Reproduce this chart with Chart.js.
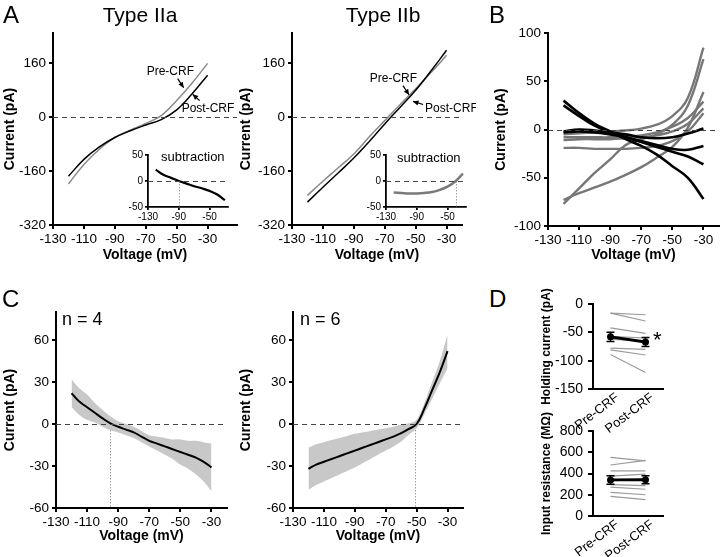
<!DOCTYPE html>
<html>
<head>
<meta charset="utf-8">
<script src="https://cdn.jsdelivr.net/npm/chart.js@4.4.1/dist/chart.umd.min.js"></script>
<style>
  body { margin: 0; background: #fff; }
  #fig { position: relative; width: 720px; height: 557px; overflow: hidden; font-family: 'Liberation Sans', Arial, Helvetica, sans-serif; }
  canvas { position: absolute; }
  .lbl { position: absolute; color: #000; white-space: nowrap; line-height: 1; z-index: 5; }
  .mid { transform: translateX(-50%); }
</style>
</head>
<body>
<div id="fig">
  <canvas id="aLeft" width="245" height="244" style="left:0px;top:22px"></canvas>
  <canvas id="aRight" width="240" height="244" style="left:236px;top:22px"></canvas>
  <canvas id="aLeftIn" width="130" height="85" style="left:105px;top:145px"></canvas>
  <canvas id="aRightIn" width="130" height="85" style="left:345px;top:145px"></canvas>
  <canvas id="bPanel" width="229" height="244" style="left:491px;top:22px"></canvas>
  <canvas id="cLeft" width="240" height="247" style="left:0px;top:300px"></canvas>
  <canvas id="cRight" width="240" height="247" style="left:236px;top:300px"></canvas>
  <canvas id="dTop" width="142" height="150" style="left:538px;top:284px"></canvas>
  <canvas id="dBottom" width="142" height="152" style="left:538px;top:405px"></canvas>

  <div class="lbl" style="left:3px;top:3px;font-size:24px">A</div>
  <div class="lbl mid" style="left:140px;top:4px;font-size:21px">Type IIa</div>
  <div class="lbl mid" style="left:383px;top:4px;font-size:21px">Type IIb</div>
  <div class="lbl" style="left:489px;top:3px;font-size:24px">B</div>
  <div class="lbl" style="left:2px;top:287px;font-size:24px">C</div>
  <div class="lbl" style="left:489px;top:287px;font-size:24px">D</div>
  <div class="lbl" style="left:62px;top:310px;font-size:18px">n = 4</div>
  <div class="lbl" style="left:300px;top:310px;font-size:18px">n = 6</div>
  <div class="lbl" style="left:161px;top:150px;font-size:13px">subtraction</div>
  <div class="lbl" style="left:397px;top:151px;font-size:13px">subtraction</div>
  <div class="lbl" style="left:653px;top:329px;font-size:22px">*</div>
</div>
<script>
const FONT = "'Liberation Sans', Arial, Helvetica, sans-serif";
Chart.defaults.font.family = FONT;
Chart.defaults.color = '#000';

// ---- panel A: I-V curves before / after CRF
const voltsA = [-120, -110, -100, -90, -80, -70, -60, -50, -40, -30];
const preIIa = [-198, -140, -95, -60, -38, -18, 5, 50, 102, 160];
const postIIa = [-175, -125, -88, -60, -40, -23, -7, 22, 70, 125];
const preIIb = [-232, -190, -150, -109, -58, -10, 38, 85, 133, 184];
const postIIb = [-252, -208, -165, -121, -72, -20, 30, 80, 138, 199];
const subIIa = [22, 12, 6, 0, -5, -10, -14, -19, -26, -37];
const subIIb = [-22, -23, -24, -24, -23, -21, -17, -11, -1, 14];
const ticksV = [-130, -110, -90, -70, -50, -30];
const ticksA = [-320, -160, 0, 160];
const ticksInV = [-130, -90, -50];
const ticksInI = [-50, 0, 50];

// ---- panel B: individual subtraction traces
const voltsB = [-120, -110, -100, -90, -80, -70, -60, -50, -40, -30];
const blackB = [
  [30, 17, 6, -2, -10, -17, -26, -38, -50, -72],
  [25, 14, 4, -3, -8, -13, -18, -23, -28, -36],
  [-3, -2, -3, -5, -8, -12, -16, -20, -21, -17],
  [-2, 0, -1, -3, -5, -8, -9, -8, -4, 1]
];
const grayB = [
  [-77, -61, -45, -31, -16, -10, -5, 5, 25, 73],
  [-73, -66, -60, -54, -47, -39, -29, -18, 2, 39],
  [-19, -19, -20, -20, -20, -19, -17, -12, -2, 17],
  [-5, -4, -3, -2, -1, 1, 5, 14, 33, 85],
  [-8, -8, -8, -8, -7, -6, -3, 3, 12, 29],
  [-11, -10, -10, -10, -9, -8, -6, -2, 6, 22]
];
const ticksB = [-100, -50, 0, 50, 100];

// ---- panel C: mean +/- SD
const voltsC = [-120, -115, -110, -105, -100, -95, -90, -85, -80, -75, -70, -65, -60, -55, -50, -45, -40, -35, -30];
const meanN4 = [22, 16, 12, 8, 4, 0.5, -2, -4, -6, -9, -12, -14, -16, -18, -20, -22, -24, -27, -31];
const sdN4 = [10, 9.5, 9, 7, 6, 5, 4, 4, 4, 4, 4, 5, 6, 7, 9, 10, 12, 14, 17];
const meanN6 = [-32, -29, -27, -25, -23, -21, -19, -17, -15, -13, -11, -9, -6.5, -3.5, 0, 11, 24, 37, 52];
const sdN6 = [15, 14.5, 14, 13.5, 13, 12.5, 12, 11, 10, 9, 8, 7, 6, 4, 3, 4, 6, 8, 12];
const ticksC = [-60, -30, 0, 30, 60];

// ---- panel D: paired cells
const groups = ['Pre-CRF', 'Post-CRF'];
const holdPre = [-16, -16, -42, -57, -62, -78, -81, -89];
const holdPost = [-19, -30, -52, -60, -66, -80, -90, -121];
const holdMean = [-58, -67];
const holdSem = [8, 8];
const resPre = [551, 480, 425, 375, 330, 295, 272, 222, 185];
const resPost = [519, 523, 425, 395, 350, 285, 252, 200, 155];
const resMean = [340, 342];
const resSem = [40, 38];
const ticksHold = [-150, -100, -50, 0];
const ticksRes = [0, 200, 400, 600, 800];

// ---- plugins
const refLines = {
  id: 'refLines',
  beforeDatasetsDraw(chart, args, o) {
    if (o.vline == null) return;
    const { ctx, chartArea: a, scales: { x, y } } = chart;
    const px = Math.round(x.getPixelForValue(o.vline)) + 0.5;
    ctx.save();
    ctx.strokeStyle = '#a0a0a0'; ctx.lineWidth = 1; ctx.setLineDash([1.5, 1.5]);
    ctx.beginPath(); ctx.moveTo(px, y.getPixelForValue(0)); ctx.lineTo(px, a.bottom); ctx.stroke();
    ctx.restore();
  },
  afterDatasetsDraw(chart, args, o) {
    if (!o.zero) return;
    const { ctx, chartArea: a, scales: { y } } = chart;
    const py = Math.round(y.getPixelForValue(0)) + 0.5;
    ctx.save();
    ctx.strokeStyle = '#444'; ctx.lineWidth = 1; ctx.setLineDash(o.dash || [5, 4]);
    ctx.beginPath(); ctx.moveTo(a.left, py); ctx.lineTo(a.right, py); ctx.stroke();
    ctx.restore();
  }
};

const notes = {
  id: 'notes',
  afterDatasetsDraw(chart, args, o) {
    const { ctx, scales: { x, y } } = chart;
    ctx.save();
    ctx.fillStyle = '#000'; ctx.strokeStyle = '#000'; ctx.lineWidth = 1.2;
    ctx.font = '12px ' + FONT;
    ctx.textBaseline = 'middle';
    (o.items || []).forEach(n => {
      ctx.fillText(n.text, x.getPixelForValue(n.at[0]), y.getPixelForValue(n.at[1]));
      const x0 = x.getPixelForValue(n.from[0]), y0 = y.getPixelForValue(n.from[1]);
      const x1 = x.getPixelForValue(n.to[0]), y1 = y.getPixelForValue(n.to[1]);
      const ang = Math.atan2(y1 - y0, x1 - x0);
      ctx.beginPath(); ctx.moveTo(x0, y0); ctx.lineTo(x1, y1); ctx.stroke();
      ctx.beginPath(); ctx.moveTo(x1, y1);
      ctx.lineTo(x1 - 6 * Math.cos(ang - 0.45), y1 - 6 * Math.sin(ang - 0.45));
      ctx.lineTo(x1 - 6 * Math.cos(ang + 0.45), y1 - 6 * Math.sin(ang + 0.45));
      ctx.closePath(); ctx.fill();
    });
    ctx.restore();
  }
};

const errBars = {
  id: 'errBars',
  afterDatasetsDraw(chart, args, o) {
    const { ctx, scales: { y } } = chart;
    const meta = chart.getDatasetMeta(0);
    const vals = chart.data.datasets[0].data;
    ctx.save();
    ctx.strokeStyle = '#000'; ctx.lineWidth = 1.5;
    meta.data.forEach((pt, i) => {
      const top = y.getPixelForValue(vals[i] + o.sem[i]);
      const bot = y.getPixelForValue(vals[i] - o.sem[i]);
      ctx.beginPath();
      ctx.moveTo(pt.x, top); ctx.lineTo(pt.x, bot);
      ctx.moveTo(pt.x - 4, top); ctx.lineTo(pt.x + 4, top);
      ctx.moveTo(pt.x - 4, bot); ctx.lineTo(pt.x + 4, bot);
      ctx.stroke();
    });
    ctx.restore();
  }
};

// ---- helpers
function frame(id, L, T, R, B) {
  const c = document.getElementById(id);
  const cl = parseInt(c.style.left), ct = parseInt(c.style.top);
  return { top: T - ct, right: cl + c.width - R, yBox: L - cl, xBox: ct + c.height - B };
}

function axis(o) {
  const s = {
    type: o.type || 'linear',
    border: { display: true, color: '#000', width: o.bw || 2 },
    grid: { drawOnChartArea: false, drawTicks: o.tl !== 0, tickLength: o.tl === undefined ? 4 : o.tl, color: '#000', lineWidth: o.bw || 2 },
    ticks: { color: '#000', font: { size: o.fs || 13.5 }, padding: o.pad === undefined ? 3 : o.pad, autoSkip: false,
             maxRotation: o.rot || 0, minRotation: o.rot || 0, labelOffset: o.shift || 0 },
    title: { display: !!o.title, text: o.title || '', color: '#000', font: { size: o.tfs || 14, weight: 'bold' }, padding: o.tpad || 2 },
    afterFit: sc => { if (sc.isHorizontal()) sc.height = o.box; else sc.width = o.box; }
  };
  if (s.type === 'linear') {
    s.min = o.min; s.max = o.max;
    s.ticks.callback = v => String(v);
    s.afterBuildTicks = sc => { sc.ticks = o.ticks.map(v => ({ value: v })); };
  } else {
    s.offset = true;
  }
  return s;
}

function series(xs, ys, color, width, extra) {
  return Object.assign({
    data: xs.map((x, i) => ({ x, y: ys[i] })),
    borderColor: color, borderWidth: width, pointRadius: 0, fill: false,
    tension: 0.4
  }, extra || {});
}

function draw(id, f, datasets, xs, ys, pluginOpts, plugins, labels) {
  const data = { datasets };
  if (labels) data.labels = labels;
  return new Chart(document.getElementById(id), {
    type: 'line',
    data,
    options: {
      responsive: false, animation: false, devicePixelRatio: 1,
      layout: { padding: { left: 0, top: f.top, right: f.right, bottom: 0 } },
      plugins: Object.assign({ legend: { display: false }, tooltip: { enabled: false } }, pluginOpts),
      scales: { x: xs, y: ys }
    },
    plugins
  });
}

// ---- panel A main charts
let f = frame('aLeft', 53, 31, 237, 225);
draw('aLeft', f,
  [series(voltsA, postIIa, '#000', 1.5), series(voltsA, preIIa, '#8a8a8a', 1.5)],
  axis({ min: -130, max: -11, ticks: ticksV, box: f.xBox, title: 'Voltage (mV)', pad: 2 }),
  axis({ min: -320, max: 250, ticks: ticksA, box: f.yBox, title: 'Current (pA)' }),
  { refLines: { zero: true }, notes: { items: [
    { text: 'Pre-CRF', at: [-69.4, 135], from: [-49.4, 115], to: [-45.5, 88] },
    { text: 'Post-CRF', at: [-46.8, 24], from: [-35.2, 50], to: [-39.7, 68] }
  ] } },
  [refLines, notes]);

f = frame('aRight', 292, 31, 462, 225);
draw('aRight', f,
  [series(voltsA, postIIb, '#000', 1.5), series(voltsA, preIIb, '#8a8a8a', 1.5)],
  axis({ min: -130, max: -20, ticks: ticksV, box: f.xBox, title: 'Voltage (mV)', pad: 2 }),
  axis({ min: -320, max: 250, ticks: ticksA, box: f.yBox, title: 'Current (pA)' }),
  { refLines: { zero: true }, notes: { items: [
    { text: 'Pre-CRF', at: [-79.7, 115], from: [-58.2, 94], to: [-54.3, 67] },
    { text: 'Post-CRF', at: [-43.9, 26], from: [-45.2, 38], to: [-51.7, 47] }
  ] } },
  [refLines, notes]);

// ---- panel A insets (subtraction)
f = frame('aLeftIn', 148, 155, 228, 207);
draw('aLeftIn', f,
  [series(voltsA, subIIa, '#000', 2.2)],
  axis({ min: -130, max: -26, ticks: ticksInV, box: f.xBox, fs: 10, tl: 3, pad: 1, bw: 1.8 }),
  axis({ min: -50, max: 50, ticks: ticksInI, box: f.yBox, fs: 10, tl: 3, pad: 2, bw: 1.8 }),
  { refLines: { zero: true, vline: -90 } },
  [refLines]);

f = frame('aRightIn', 386, 155, 466, 207);
draw('aRightIn', f,
  [series(voltsA, subIIb, '#7a7a7a', 2.5)],
  axis({ min: -130, max: -26, ticks: ticksInV, box: f.xBox, fs: 10, tl: 3, pad: 1, bw: 1.8 }),
  axis({ min: -50, max: 50, ticks: ticksInI, box: f.yBox, fs: 10, tl: 3, pad: 2, bw: 1.8 }),
  { refLines: { zero: true, vline: -39 } },
  [refLines]);

// ---- panel B
f = frame('bPanel', 548, 30, 719, 226);
draw('bPanel', f,
  blackB.map(t => series(voltsB, t, '#000', 2.6)).concat(grayB.map(t => series(voltsB, t, '#777', 2.4))),
  axis({ min: -130, max: -20, ticks: ticksV, box: f.xBox, title: 'Voltage (mV)', pad: 2 }),
  axis({ min: -100, max: 100, ticks: ticksB, box: f.yBox, title: 'Current (pA)' }),
  { refLines: { zero: true } },
  [refLines]);

// ---- panel C
function bandSets(mean, sd) {
  return [
    series(voltsC, mean, '#000', 2),
    series(voltsC, mean.map((m, i) => m + sd[i]), 'rgba(0,0,0,0)', 0, { fill: '+1', backgroundColor: '#c8c8c8' }),
    series(voltsC, mean.map((m, i) => m - sd[i]), 'rgba(0,0,0,0)', 0)
  ];
}

f = frame('cLeft', 56, 312, 227, 508);
draw('cLeft', f, bandSets(meanN4, sdN4),
  axis({ min: -130, max: -20, ticks: ticksV, box: f.xBox, title: 'Voltage (mV)', pad: 2 }),
  axis({ min: -60, max: 80, ticks: ticksC, box: f.yBox, title: 'Current (pA)' }),
  { refLines: { zero: true, vline: -95 } },
  [refLines]);

f = frame('cRight', 293, 312, 463, 508);
draw('cRight', f, bandSets(meanN6, sdN6),
  axis({ min: -130, max: -20, ticks: ticksV, box: f.xBox, title: 'Voltage (mV)', pad: 2 }),
  axis({ min: -60, max: 80, ticks: ticksC, box: f.yBox, title: 'Current (pA)' }),
  { refLines: { zero: true, vline: -51 } },
  [refLines]);

// ---- panel D
function pairedSets(pre, post, mean) {
  const sets = [{ data: mean, borderColor: '#000', borderWidth: 3, pointRadius: 3.5,
                  pointBackgroundColor: '#000', pointBorderWidth: 0 }];
  pre.forEach((v, i) => sets.push({ data: [v, post[i]], borderColor: '#9a9a9a', borderWidth: 1.2, pointRadius: 0 }));
  return sets;
}

f = frame('dTop', 593, 304, 663, 389);
draw('dTop', f, pairedSets(holdPre, holdPost, holdMean),
  axis({ type: 'category', box: f.xBox, fs: 13, tl: 0, pad: 1, rot: 37, shift: 7 }),
  axis({ min: -150, max: 0, ticks: ticksHold, box: f.yBox, fs: 14, tl: 5, pad: 5, title: 'Holding current (pA)', tfs: 12, tpad: 1 }),
  { errBars: { sem: holdSem } },
  [errBars], groups);

f = frame('dBottom', 593, 431, 663, 516);
draw('dBottom', f, pairedSets(resPre, resPost, resMean),
  axis({ type: 'category', box: f.xBox, fs: 13, tl: 0, pad: 1, rot: 37, shift: 7 }),
  axis({ min: 0, max: 800, ticks: ticksRes, box: f.yBox, fs: 14, tl: 5, pad: 5, title: 'Input resistance (M\u03A9)', tfs: 12, tpad: 1 }),
  { errBars: { sem: resSem } },
  [errBars], groups);
</script>
</body>
</html>
